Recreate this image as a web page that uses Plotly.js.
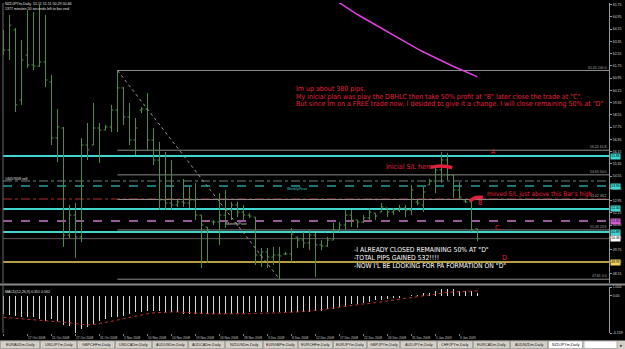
<!DOCTYPE html>
<html><head><meta charset="utf-8">
<script src="https://cdn.plot.ly/plotly-3.0.1.min.js"></script>
<style>html,body{margin:0;padding:0;background:#000;overflow:hidden}#chart{width:625px;height:349px}</style>
</head><body><div id="chart"></div>
<script>
// ---------- DATA ----------
const openP  = [63.77,62.79,64.10,59.52,62.46,61.81,61.74,62.01,60.70,57.04,
                57.69,50.70,52.00,50.57,56.58,56.58,57.69,57.56,57.76,58.87,
                60.31,58.41,56.91,58.87,58.93,56.91,55.60,52.99,52.79,52.66,
                52.86,52.79,52.99,52.00,51.22,51.55,51.55,52.00,52.33,52.66,
                52.20,52.00,51.87,49.39,49.59,49.26,49.39,49.46,49.46,50.57,
                50.37,50.18,50.70,50.05,49.98,50.37,51.02,51.35,52.00,51.68,
                51.55,51.81,52.13,52.20,52.46,52.20,52.33,52.46,52.33,52.86,
                52.66,53.97,54.23,54.95,55.60,54.62,53.64,52.92,52.86,51.11];
const highP  = [64.10,65.08,64.23,63.44,65.40,65.27,65.73,65.08,61.16,58.93,
                57.76,52.66,52.79,57.04,58.02,59.33,58.02,57.89,59.20,61.45,
                60.37,59.33,58.35,59.06,59.98,57.69,56.78,56.12,55.60,52.99,
                54.36,53.84,54.10,52.00,51.22,51.68,53.44,53.64,52.86,52.86,
                52.66,52.13,51.87,49.85,49.85,49.92,49.92,49.59,51.16,50.57,
                50.89,51.02,50.83,50.37,50.57,51.48,51.55,52.33,52.33,51.68,
                52.00,52.46,52.13,52.79,52.46,52.46,52.66,52.66,53.97,52.99,
                53.84,54.36,55.14,56.12,56.06,54.62,54.16,52.99,52.99,51.11];
const lowP   = [62.46,62.14,58.74,59.20,61.61,61.48,61.68,60.37,56.58,55.47,
                49.92,50.50,49.20,50.24,55.60,56.58,55.40,57.56,57.43,57.43,
                57.89,56.58,55.93,58.67,56.26,55.27,52.33,52.33,52.33,52.53,
                52.53,52.46,51.68,48.54,48.87,51.35,50.05,51.16,51.68,51.87,
                51.68,51.81,48.74,48.61,48.54,48.74,47.81,49.39,48.93,49.85,
                49.85,49.72,47.95,49.72,49.92,50.37,50.89,51.02,51.22,51.16,
                51.48,51.68,51.68,52.20,51.87,52.00,52.20,51.87,52.00,52.66,
                52.20,53.97,53.44,54.10,54.29,53.12,52.99,52.79,50.89,50.29];
const closeP = [62.79,64.42,59.20,62.14,61.81,61.74,62.01,60.83,57.04,57.76,
                50.70,52.00,50.57,56.58,56.26,57.69,57.56,57.76,58.87,60.31,
                58.41,56.91,57.69,58.93,56.91,55.60,52.99,52.79,52.66,52.86,
                52.79,52.99,52.00,51.35,51.02,51.55,52.00,52.33,52.66,52.20,
                52.00,51.94,49.39,49.59,49.26,49.39,49.33,49.46,50.76,50.37,
                50.18,50.70,50.05,49.98,50.37,51.02,51.35,52.00,51.68,51.55,
                51.81,52.20,51.94,52.53,52.20,52.33,52.46,52.33,53.64,52.79,
                53.51,54.23,54.95,55.60,54.62,53.64,53.18,52.86,51.02,50.46];
const macdMain = [-2.0,-2.1,-2.2,-2.4,-2.4,-2.4,-2.6,-2.8,-2.6,-2.8,
                  -3.3,-3.4,-4.159,-3.7,-3.5,-3.15,-2.8,-2.6,-2.4,-2.35,
                  -2.2,-2.0,-1.85,-1.8,-1.65,-1.65,-1.7,-1.8,-1.85,-1.85,
                  -2.0,-2.0,-2.0,-2.05,-2.05,-2.0,-2.0,-2.0,-2.0,-1.95,
                  -1.9,-1.85,-1.85,-1.85,-1.85,-1.85,-1.85,-1.8,-1.8,-1.8,
                  -1.8,-1.8,-1.65,-1.65,-1.46,-1.46,-1.27,-1.08,-0.9,-0.9,
                  -0.78,-0.7,-0.5,-0.4,-0.3,-0.2,-0.2,-0.05,0.15,0.15,
                  0.35,0.35,0.6,0.75,0.75,0.75,0.6,0.55,0.5,0.351];
const macdSignal = [-2.4,-2.45,-2.5,-2.55,-2.6,-2.65,-2.7,-2.75,-2.8,-2.85,
                    -2.9,-3.0,-3.1,-3.2,-3.25,-3.2,-3.1,-3.0,-2.85,-2.7,
                    -2.55,-2.4,-2.25,-2.1,-2.0,-1.9,-1.85,-1.8,-1.8,-1.8,
                    -1.85,-1.9,-1.9,-1.95,-2.0,-2.0,-2.0,-2.05,-2.05,-2.05,
                    -2.0,-2.0,-1.95,-1.95,-1.9,-1.9,-1.9,-1.85,-1.85,-1.8,
                    -1.75,-1.7,-1.65,-1.55,-1.45,-1.35,-1.25,-1.15,-1.05,-0.95,
                    -0.9,-0.85,-0.75,-0.65,-0.55,-0.45,-0.35,-0.25,-0.15,-0.05,
                    0.05,0.15,0.25,0.32,0.4,0.45,0.5,0.53,0.55,0.562];
const maBars   = [54,55,56,57,58,59,60,61,62,63,64,65,66,67,68,69,70,71,72,73,74,75,76,77,78,79];
const maValues = [66.38,66.12,65.86,65.60,65.34,65.11,64.88,64.65,64.42,64.19,63.97,63.74,63.51,
                  63.28,63.05,62.86,62.66,62.46,62.27,62.07,61.88,61.71,61.55,61.39,61.22,61.03];
const dateTickBars = [0,4,8,12,16,20,24,28,32,36,40,44,48,52,56,60,64,68,72,76];
const dateLabels = ['13 Oct 2008','17 Oct 2008','21 Oct 2008','27 Oct 2008','31 Oct 2008','5 Nov 2008',
  '10 Nov 2008','14 Nov 2008','19 Nov 2008','24 Nov 2008','28 Nov 2008','3 Dec 2008','8 Dec 2008',
  '12 Dec 2008','17 Dec 2008','22 Dec 2008','26 Dec 2008','31 Dec 2008','5 Jan 2009','9 Jan 2009'];
const priceTickLabels = ['65.75','64.95','64.15','63.35','62.55','61.75','60.95','60.15','59.35','58.55',
  '57.75','56.95','56.15','55.35','54.55','53.75','52.95','52.15','51.35','50.55','49.75','48.95','48.15'];
const macdTickValues = [1.004, 0, -4.159];
const macdTickLabels = ['1.004','0.00','-4.159'];
const fibHigh = 61.45, fibLow = 47.81, fibStartBar = 19, fibEndBar = 46;
const fibRatios = [100, 61.8, 50, 38.2, 23.6, 0];
const pivotLevels = [55.86, 52.40, 50.89];
const weeklyPivot = 53.90, monthlyPivot = 51.61, orderLevel = 54.23, stopLevel = 53.05;
const yellowLevel = 48.93, bidPrice = 50.46;
const tabNames = ['EURAUDm,Daily','USDJPYm,Daily','GBPCHFm,Daily','USDCADm,Daily','AUDUSDm,Daily',
  'AUDCADm,Daily','NZDUSDm,Daily','EURGBPm,Daily','EURCHFm,Daily','EURJPYm,Daily','GBPJPYm,Daily',
  'AUDJPYm,Daily','CHFJPYm,Daily','EURCADm,Daily','AUDNZDm,Daily','NZDJPYm,Daily'];

// ---------- LAYOUT HELPERS ----------
const W = 625, H = 349, L = 3, R = 609, T = 3, B = 333;
const PX = x => (x - L) / (R - L);
const PY = y => (B - y) / (B - T);
const XR = [-0.0833, 100.9167];
const barIdx = closeP.map((_, i) => i);
const small = 'Liberation Sans, Arial, sans-serif';
const narrow = 'Liberation Sans Narrow, DejaVu Sans Condensed, Arial Narrow, sans-serif';
const TINY = 3.5;

const traces = [
  { type: 'ohlc', x: barIdx, open: openP, high: highP, low: lowP, close: closeP,
    xaxis: 'x', yaxis: 'y', tickwidth: 0.33,
    increasing: { line: { color: '#4c8c46', width: 1 } },
    decreasing: { line: { color: '#4c8c46', width: 1 } }, hoverinfo: 'skip' },
  { type: 'scatter', mode: 'lines', x: maBars, y: maValues, xaxis: 'x', yaxis: 'y',
    line: { color: '#e040e0', width: 1.5 }, hoverinfo: 'skip' },
  { type: 'scatter', mode: 'lines', x: [fibStartBar, fibEndBar], y: [fibHigh, fibLow], xaxis: 'x', yaxis: 'y',
    line: { color: '#9a9a9a', width: 1, dash: 'dot' }, hoverinfo: 'skip' },
  { type: 'bar', x: barIdx, y: macdMain, xaxis: 'x', yaxis: 'y2', width: 0.22,
    marker: { color: '#d8d8d8', line: { width: 0 } }, hoverinfo: 'skip' },
  { type: 'scatter', mode: 'lines', x: barIdx, y: macdSignal, xaxis: 'x', yaxis: 'y2',
    line: { color: '#c03030', width: 1, dash: 'dot' }, hoverinfo: 'skip' }
];

const shapes = [];
const ann = [];
function hline(level, color, width, dash, x0) {
  shapes.push({ type: 'line', xref: x0 === undefined ? 'paper' : 'x', yref: 'y',
    x0: x0 === undefined ? 0 : x0, x1: x0 === undefined ? 1 : XR[1], y0: level, y1: level,
    line: { color: color, width: width, dash: dash || 'solid' }, layer: 'below' });
}
function txt(text, x, y, size, color, opts) {
  ann.push(Object.assign({ text: text, x: x, y: y, xref: 'paper', yref: 'paper', showarrow: false,
    xanchor: 'left', yanchor: 'middle', font: { family: small, size: size, color: color }, borderpad: 0 }, opts || {}));
}
function box(level, color) {
  ann.push({ text: level.toFixed(2), x: PX(610), y: level, xref: 'paper', yref: 'y', showarrow: false,
    xanchor: 'left', yanchor: 'middle', bgcolor: color, borderpad: 0.3,
    font: { family: small, size: 3.3, color: '#000' } });
}

// Fibonacci levels
fibRatios.forEach(r => {
  const lv = fibLow + r / 100 * (fibHigh - fibLow);
  hline(lv, '#8c8c8c', 1, 'solid', fibStartBar);
  ann.push({ text: lv.toFixed(2) + ' ' + r.toFixed(1), x: 0.998, y: lv, xref: 'paper', yref: 'y',
    showarrow: false, xanchor: 'right', yanchor: 'bottom', borderpad: 0,
    font: { family: small, size: TINY, color: '#a8a8a8' } });
});
// other horizontal lines
hline(orderLevel, '#6f7f7f', 1, 'dashdot');
hline(weeklyPivot, '#2a9a9a', 1.5, 'dash');
hline(stopLevel, '#b03030', 1, 'dashdot');
hline(monthlyPivot, '#c878c8', 1.5, 'dash');
hline(bidPrice, '#5c5c5c', 1);
hline(yellowLevel, '#f2d35a', 1.5);
pivotLevels.forEach(lv => hline(lv, '#40d6d0', 2));

// panel separator & borders
shapes.push({ type: 'line', xref: 'paper', yref: 'paper', x0: PX(0), x1: PX(W), y0: PY(284.5), y1: PY(284.5),
  line: { color: '#8a8a8a', width: 2 } });
shapes.push({ type: 'line', xref: 'paper', yref: 'paper', x0: PX(3), x1: PX(3), y0: PY(3), y1: PY(333),
  line: { color: '#6a6a6a', width: 1 } });

// red pen marks
shapes.push({ type: 'path', xref: 'x', yref: 'y', path: 'M 71.2,55.12 Q 73,55.32 74.8,55.1',
  line: { color: '#e0203c', width: 3.5 } });
shapes.push({ type: 'path', xref: 'x', yref: 'y', path: 'M 77.8,52.9 Q 78.3,53.22 79.9,53.15',
  line: { color: '#e0203c', width: 3.5 } });

// axis price boxes
pivotLevels.forEach(lv => box(lv, '#40d6d0'));
box(weeklyPivot, '#40d6d0');
box(monthlyPivot, '#d060d0');
box(bidPrice, '#ffffff');
box(yellowLevel, '#f2d35a');

// header texts
txt('NZDJPYm,Daily  51.11 51.11 50.29 50.46', PX(4), PY(4.5), 3.6, '#e0e0e0');
txt('1377 minutes 50 seconds left to bar end', PX(4), PY(9.5), 3.6, '#e0e0e0');
txt('MACD(12,26,9) 0.351 0.562', PX(4), PY(292), 3.6, '#e0e0e0');
txt('#4057658 sell', PX(4), PY(179), 3.6, '#e0e0e0');
txt('WeeklyPivot', PX(286), PY(188.5), 3.6, '#40c8c8');
txt('MonthlyPivot', PX(225), PY(224.5), 3.6, '#d0d0d0');

// red comments
const red = '#e3213d';
const rfont = { family: narrow, size: 7, color: red };
txt('Im up about 380 pips.', PX(295), PY(89), 7, red, { font: rfont });
txt('My inicial plan was play the DBHLC then take 50% profit at "B" later close the trade at "C".', PX(295), PY(96.7), 7, red, { font: rfont });
txt('But since Im on a FREE trade now, I desided to give it a change. I will close remaining 50% at "D"', PX(295), PY(104.3), 7, red, { font: rfont });
txt('Inicial S/L here', PX(385), PY(167), 7, red, { font: rfont });
txt('moved S/L just above this Bar\'s high', PX(486), PY(193.5), 7, red, { font: { family: narrow, size: 6.4, color: red } });
[['A', 493, 152], ['B', 480, 203], ['C', 497, 228], ['D', 504, 258]].forEach(a =>
  txt(a[0], PX(a[1]), PY(a[2]), 7, red, { xanchor: 'center', font: rfont }));
const wf = { family: narrow, size: 6.8, color: '#ffffff' };
txt('-I ALREADY CLOSED REMAINING 50% AT "D"', PX(353), PY(250), 7, '#fff', { font: wf });
txt('-TOTAL PIPS GAINED 532!!!!', PX(353), PY(258), 7, '#fff', { font: wf });
txt('-NOW I\'L BE LOOKING FOR PA FORMATION ON "D"', PX(353), PY(266), 7, '#fff', { font: wf });

// date labels
dateTickBars.forEach((b, i) => {
  ann.push({ text: dateLabels[i], x: b - 0.1, y: PY(337.5), xref: 'x', yref: 'paper', showarrow: false,
    xanchor: 'left', yanchor: 'middle', borderpad: 0, font: { family: small, size: 3.2, color: '#c8c8c8' } });
});

// tab bar
shapes.push({ type: 'rect', xref: 'paper', yref: 'paper', x0: PX(0), x1: PX(W), y0: PY(340.5), y1: PY(349),
  fillcolor: '#d4d0c8', line: { width: 0 } });
const tabEdges = [0, 40, 77, 115, 152, 188, 225, 263, 298, 333, 367, 400, 437, 473, 510, 548, 583];
tabNames.forEach((n, i) => {
  const x0 = tabEdges[i], x1 = tabEdges[i + 1];
  const active = i === tabNames.length - 1;
  shapes.push({ type: 'rect', xref: 'paper', yref: 'paper', x0: PX(x0 + 0.5), x1: PX(x1 - 0.5),
    y0: PY(341), y1: PY(348.5), fillcolor: active ? '#ffffff' : '#d4d0c8',
    line: { color: '#8c8c8c', width: 0.6 } });
  ann.push({ text: n, x: PX((x0 + x1) / 2), y: PY(345), xref: 'paper', yref: 'paper', showarrow: false,
    xanchor: 'center', yanchor: 'middle', borderpad: 0, font: { family: small, size: 3.8, color: '#202020' } });
});
shapes.push({ type: 'rect', xref: 'paper', yref: 'paper', x0: PX(584), x1: PX(617), y0: PY(341), y1: PY(348.5),
  fillcolor: '#ffffff', line: { color: '#8c8c8c', width: 0.6 } });
ann.push({ text: '\u25B8', x: PX(621), y: PY(345), xref: 'paper', yref: 'paper', showarrow: false,
  xanchor: 'center', yanchor: 'middle', borderpad: 0, font: { family: small, size: 4.5, color: '#404040' } });

const layout = {
  width: W, height: H, margin: { l: L, r: W - R, t: T, b: H - B, pad: 0 },
  paper_bgcolor: '#000', plot_bgcolor: '#000', showlegend: false, hovermode: false, bargap: 0,
  xaxis: { range: XR, anchor: 'y2', showticklabels: false, showgrid: false, zeroline: false,
    ticks: 'outside', tickvals: dateTickBars, ticklen: 2, tickcolor: '#888', showline: false,
    rangeslider: { visible: false }, fixedrange: true },
  yaxis: { domain: [PY(283), 1], range: [47.561, 65.862], side: 'right', showgrid: false, zeroline: false,
    tickvals: priceTickLabels.map(parseFloat), ticktext: priceTickLabels, ticks: 'outside', ticklen: 2,
    tickcolor: '#9a9a9a', showline: true, linecolor: '#9a9a9a', linewidth: 1,
    tickfont: { family: small, size: TINY, color: '#d8d8d8' }, fixedrange: true },
  yaxis2: { domain: [0, PY(287)], range: [-4.159, 1.004], side: 'right', anchor: 'x', showgrid: false,
    zeroline: false, tickvals: macdTickValues, ticktext: macdTickLabels, ticks: 'outside', ticklen: 2,
    tickcolor: '#9a9a9a', showline: true, linecolor: '#9a9a9a', linewidth: 1,
    tickfont: { family: small, size: TINY, color: '#d8d8d8' }, fixedrange: true },
  shapes: shapes, annotations: ann
};
Plotly.newPlot('chart', traces, layout, { staticPlot: true, displayModeBar: false });
</script></body></html>
